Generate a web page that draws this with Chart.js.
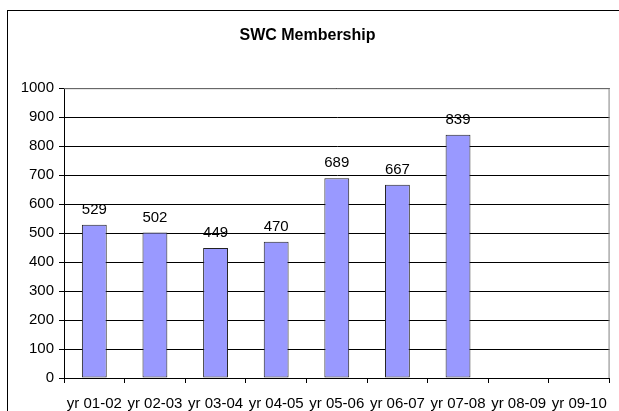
<!DOCTYPE html>
<html>
<head>
<meta charset="utf-8">
<script src="https://cdn.jsdelivr.net/npm/chart.js@4.4.0/dist/chart.umd.min.js"></script>
<style>
  html, body { margin: 0; padding: 0; background: #fff; }
  #wrap { width: 619px; height: 411px; position: relative; }
</style>
</head>
<body>
<div id="wrap"><canvas id="membershipChart"></canvas></div>
<script>
// Datos de membresía
const seasons = ['yr 01-02', 'yr 02-03', 'yr 03-04', 'yr 04-05', 'yr 05-06', 'yr 06-07', 'yr 07-08', 'yr 08-09', 'yr 09-10'];
const members = [529, 502, 449, 470, 689, 667, 839, null, null];
const yTicks = [0, 100, 200, 300, 400, 500, 600, 700, 800, 900, 1000];

const FONT = 'Liberation Sans, Arial, sans-serif';

// Marco exterior, borde del área de trazado y etiquetas de valor
const framePlugin = {
    id: 'frame',
    beforeDraw(chart) {
        const ctx = chart.ctx;
        ctx.save();
        ctx.fillStyle = '#fff';
        ctx.fillRect(0, 0, chart.width, chart.height);
        ctx.strokeStyle = '#000';
        ctx.lineWidth = 1;
        ctx.strokeRect(7.5, 10.5, 640, 420);
        ctx.restore();
    },
    afterDatasetsDraw(chart) {
        const ctx = chart.ctx;
        const a = chart.chartArea;
        ctx.save();
        ctx.strokeStyle = '#808080';
        ctx.lineWidth = 1;
        ctx.beginPath();
        ctx.moveTo(a.left, a.top + 0.5);
        ctx.lineTo(a.right - 0.5, a.top + 0.5);
        ctx.lineTo(a.right - 0.5, a.bottom);
        ctx.stroke();
        const meta = chart.getDatasetMeta(0);
        ctx.fillStyle = '#000';
        ctx.font = '15px ' + FONT;
        ctx.textAlign = 'center';
        ctx.textBaseline = 'middle';
        meta.data.forEach((bar, i) => {
            const v = members[i];
            if (v === null) return;
            ctx.fillText(String(v), bar.x, bar.y - 15);
        });
        ctx.restore();
    }
};

new Chart(document.getElementById('membershipChart'), {
    type: 'bar',
    data: {
        labels: seasons,
        datasets: [{
            label: 'SWC Membership',
            data: members,
            backgroundColor: '#9999ff',
            borderColor: '#222',
            borderWidth: 1,
            borderSkipped: false,
            categoryPercentage: 1,
            barPercentage: 0.41
        }]
    },
    options: {
        responsive: true,
        maintainAspectRatio: false,
        animation: false,
        layout: { padding: { left: 0, right: 4, top: 0, bottom: 0 } },
        plugins: {
            legend: { display: false },
            tooltip: { enabled: false },
            title: {
                display: true,
                text: 'SWC Membership',
                color: '#000',
                font: { family: FONT, size: 16, weight: 'bold' },
                padding: { top: 26, bottom: 43 }
            }
        },
        scales: {
            x: {
                offset: true,
                grid: {
                    offset: true,
                    display: true,
                    drawOnChartArea: false,
                    drawTicks: true,
                    tickLength: 5,
                    color: '#000'
                },
                border: { display: true, color: '#000' },
                ticks: {
                    color: '#000',
                    font: { family: FONT, size: 15 },
                    padding: 12,
                    maxRotation: 0,
                    autoSkip: false
                },
                afterFit(scale) { scale.height = 33; }
            },
            y: {
                min: 0,
                max: 1000,
                afterBuildTicks(scale) { scale.ticks = yTicks.map(v => ({ value: v })); },
                grid: {
                    color: '#000',
                    drawTicks: true,
                    tickLength: 5
                },
                border: { display: true, color: '#000' },
                ticks: {
                    color: '#000',
                    font: { family: FONT, size: 15 },
                    padding: 5,
                    callback: v => String(v)
                },
                afterFit(scale) { scale.width = 64; }
            }
        }
    },
    plugins: [framePlugin]
});
</script>
</body>
</html>
